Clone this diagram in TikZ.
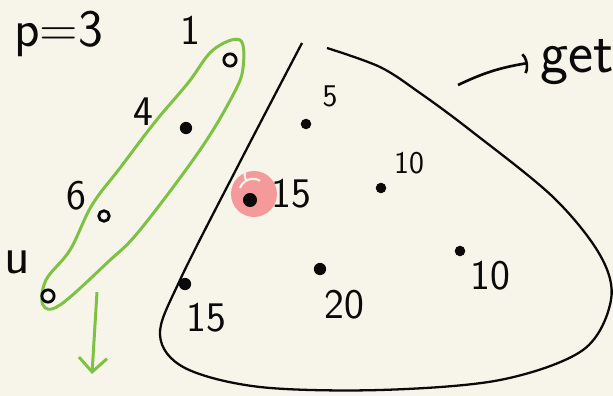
\documentclass[tikz,border=0pt]{standalone}
\usepackage{xcolor}
\usepackage{tikz}
\usetikzlibrary{arrows.meta,positioning}
\definecolor{paper}{HTML}{F7F5EA}
\definecolor{ink}{HTML}{0A0A0A}
\definecolor{lasso}{HTML}{7DC242}
\definecolor{blush}{HTML}{F59A9A}
\tikzset{
  every node/.style={font=\sffamily},
  num/.style={font=\sffamily\fontsize{24}{26}\selectfont,color=ink,inner sep=0pt},
  small/.style={num,font=\sffamily\fontsize{18}{20}\selectfont},
  dot/.style={circle,fill=ink,inner sep=0pt,minimum size=8pt},
  ring/.style={circle,draw=ink,line width=1.6pt,inner sep=0pt,minimum size=7pt},
  hull/.style={draw=ink,line width=1.3pt},
  lassoline/.style={draw=lasso,line width=1.7pt},
  ar/.style={-{Straight Barb[length=8pt,width=16pt]},draw=lasso,line width=1.7pt},
  pt/.style={-{Parenthesis[length=4pt,width=14pt]},draw=ink,line width=1.5pt},
}

\begin{document}
\begin{tikzpicture}[x=0.02cm,y=-0.02cm]
\fill[paper] (0,0) rectangle (613,396);
\useasboundingbox (0,0) rectangle (613,396);

% header
\node[num,font=\sffamily\fontsize{30}{32}\selectfont,anchor=base west] (head) at (14,46) {p=3};

% the chosen group
\draw[lassoline] plot[smooth cycle,tension=0.6] coordinates {(43,305) (46,280) (70,250) (92,205) (120,168) (155,122) (188,83) (213,50) (240,40) (243,68) (233,95) (200,150) (140,230) (108,262) (60,305)};
\node[ring] (a1) at (230,60) {};
\node[dot,minimum size=7pt] (a2) at (186,128) {};
\node[ring,minimum size=6pt] (a3) at (104,216) {};
\node[ring] (a4) at (48,296) {};
\node[num] (l1) at (190,30) {1};
\node[num] (l2) at (143,112) {4};
\node[num] (l3) at (76,196) {6};
\node[num,font=\sffamily\fontsize{30}{32}\selectfont] (l4) at (17,262) {u};
\coordinate (down0) at (97,292);
\coordinate (down1) at (92,374);
\draw[ar] (down0) -- (down1);

% the rest
\draw[hull] plot[smooth,tension=0.55] coordinates {(302,43) (241,160) (180,280) (160,335) (185,368) (260,387) (380,390) (500,380) (583,350) (611,300) (600,255) (553,197) (470,130) (420,93) (380,67) (327,48)};
\fill[blush] (254,194) circle (23);
\draw[paper,line width=1.2pt] (240,188) arc (200:300:14);
\draw[paper,line width=1.2pt] (246,180) arc (150:260:10);
\node[dot] (b1) at (250,200) {};
\node[num] (m1) at (291,194) {15};
\node[dot,minimum size=6pt] (b2) at (306,124) {};
\node[small] (m2) at (330,96) {5};
\node[dot,minimum size=6pt] (b3) at (381,188) {};
\node[small] (m3) at (409,163) {10};
\node[dot,minimum size=7pt] (b4) at (185,284) {};
\node[num] (m4) at (206,318) {15};
\node[dot,minimum size=7pt] (b5) at (320,269) {};
\node[num] (m5) at (344,305) {20};
\node[dot,minimum size=6pt] (b6) at (460,251) {};
\node[num] (m6) at (490,276) {10};

% what comes out
\node[num,font=\sffamily\fontsize{34}{36}\selectfont] (out) at (577,62) {get};
\coordinate (tail) at (458,85);
\coordinate (tip) at (528,63);
\draw[pt] (tail) to[bend left=8] (tip);
\end{tikzpicture}
\end{document}
